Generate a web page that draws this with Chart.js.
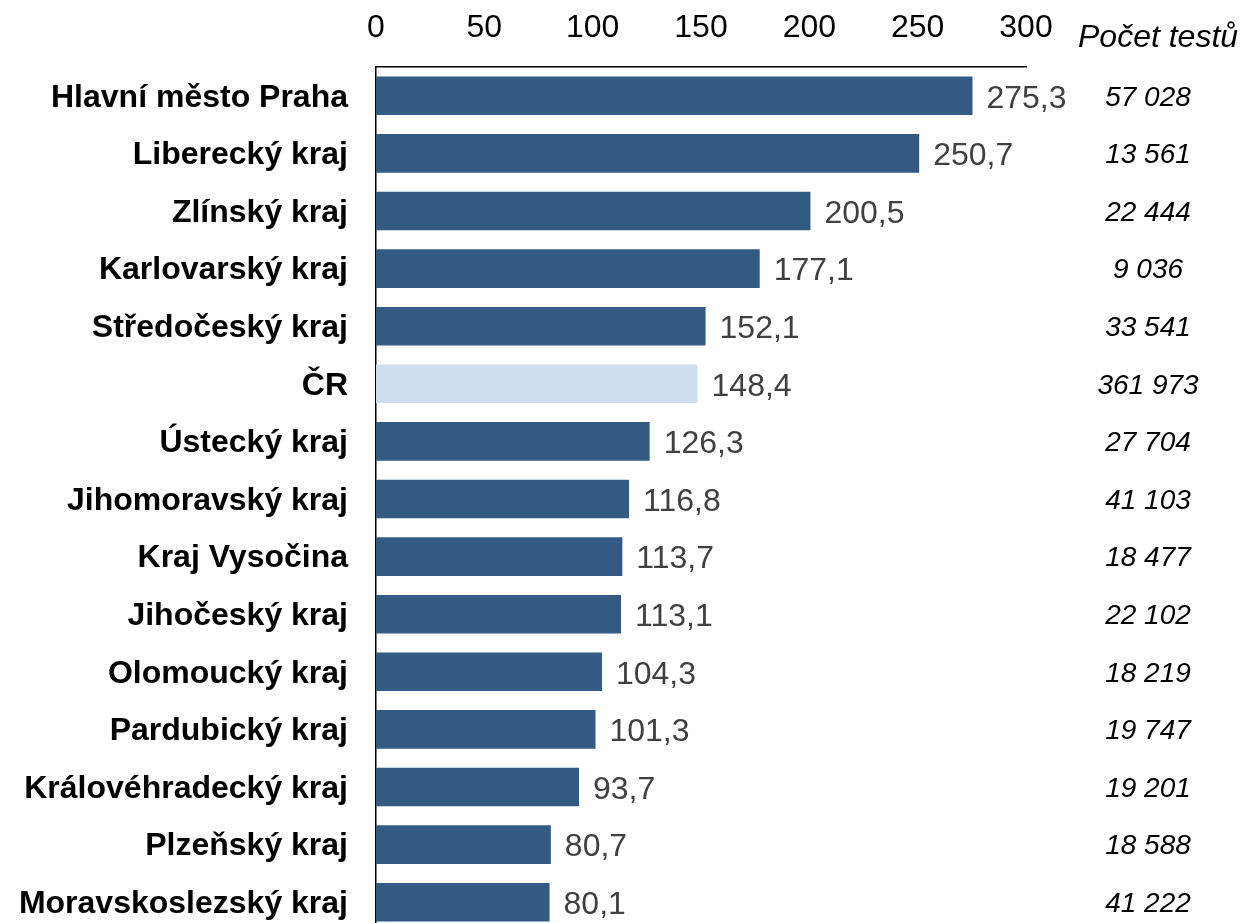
<!DOCTYPE html>
<html>
<head>
<meta charset="utf-8">
<script src="https://cdn.jsdelivr.net/npm/chart.js@4"></script>
<style>
  html, body { margin: 0; padding: 0; background: #fff; overflow: hidden; }
  canvas { display: block; }
</style>
</head>
<body>
<canvas id="chart" width="1245" height="931"></canvas>
<script>
// regions
const regions = [
  "Hlavní město Praha", "Liberecký kraj", "Zlínský kraj", "Karlovarský kraj",
  "Středočeský kraj", "ČR", "Ústecký kraj", "Jihomoravský kraj", "Kraj Vysočina",
  "Jihočeský kraj", "Olomoucký kraj", "Pardubický kraj", "Královéhradecký kraj",
  "Plzeňský kraj", "Moravskoslezský kraj"
];
const values = [275.3, 250.7, 200.5, 177.1, 152.1, 148.4, 126.3, 116.8, 113.7, 113.1, 104.3, 101.3, 93.7, 80.7, 80.1];
const testCounts = ["57 028", "13 561", "22 444", "9 036", "33 541", "361 973", "27 704", "41 103", "18 477", "22 102", "18 219", "19 747", "19 201", "18 588", "41 222"];
const testsTitle = "Počet testů";
const xTicks = [0, 50, 100, 150, 200, 250, 300];

const barColors = regions.map((r) => (r === "ČR" ? "#CFDEEC" : "#325A82"));
const FONT = "'Liberation Sans', Arial, sans-serif";

const labelsPlugin = {
  id: "labels",
  afterDatasetsDraw(chart) {
    const ctx = chart.ctx;
    const x = chart.scales.x;
    const y = chart.scales.y;
    ctx.save();
    ctx.textBaseline = "middle";
    values.forEach((v, i) => {
      const py = y.getPixelForValue(i);
      ctx.fillStyle = "#404040";
      ctx.font = `32px ${FONT}`;
      ctx.textAlign = "left";
      ctx.fillText(v.toFixed(1).replace(".", ","), x.getPixelForValue(v) + 14, py + 3);
      ctx.fillStyle = "#000";
      ctx.font = `italic 28px ${FONT}`;
      ctx.textAlign = "center";
      ctx.fillText(testCounts[i], 1148, py + 2);
    });
    ctx.font = `italic 32px ${FONT}`;
    ctx.textAlign = "left";
    ctx.fillStyle = "#000";
    ctx.fillText(testsTitle, 1078, 38);
    ctx.restore();
  },
};

const ctx = document.getElementById("chart").getContext("2d");
const myChart = new Chart(ctx, {
  type: "bar",
  data: {
    labels: regions,
    datasets: [
      {
        data: values,
        backgroundColor: barColors,
        barPercentage: 0.67,
        categoryPercentage: 1,
      },
    ],
  },
  options: {
    indexAxis: "y",
    responsive: false,
    animation: false,
    layout: { padding: { top: 0, right: 219, bottom: 0, left: 0 } },
    plugins: { legend: { display: false }, tooltip: { enabled: false } },
    scales: {
      x: {
        position: "top",
        min: 0,
        max: 300,
        afterBuildTicks: (axis) => {
          axis.ticks = xTicks.map((v) => ({ value: v }));
        },
        afterFit: (axis) => {
          axis.height = 67;
        },
        grid: { display: false, drawTicks: false },
        border: { display: true, color: "#000", width: 1.5 },
        ticks: {
          color: "#000",
          padding: 20,
          font: { family: FONT, size: 32 },
        },
      },
      y: {
        afterFit: (axis) => {
          axis.width = 376;
          axis.paddingTop = 0;
          axis.paddingBottom = 0;
        },
        grid: { display: false, drawTicks: false },
        border: { display: true, color: "#000", width: 1.5 },
        ticks: {
          color: "#000",
          padding: 28,
          labelOffset: 2,
          font: { family: FONT, size: 32, weight: "bold" },
        },
      },
    },
  },
  plugins: [labelsPlugin],
});
</script>
</body>
</html>
